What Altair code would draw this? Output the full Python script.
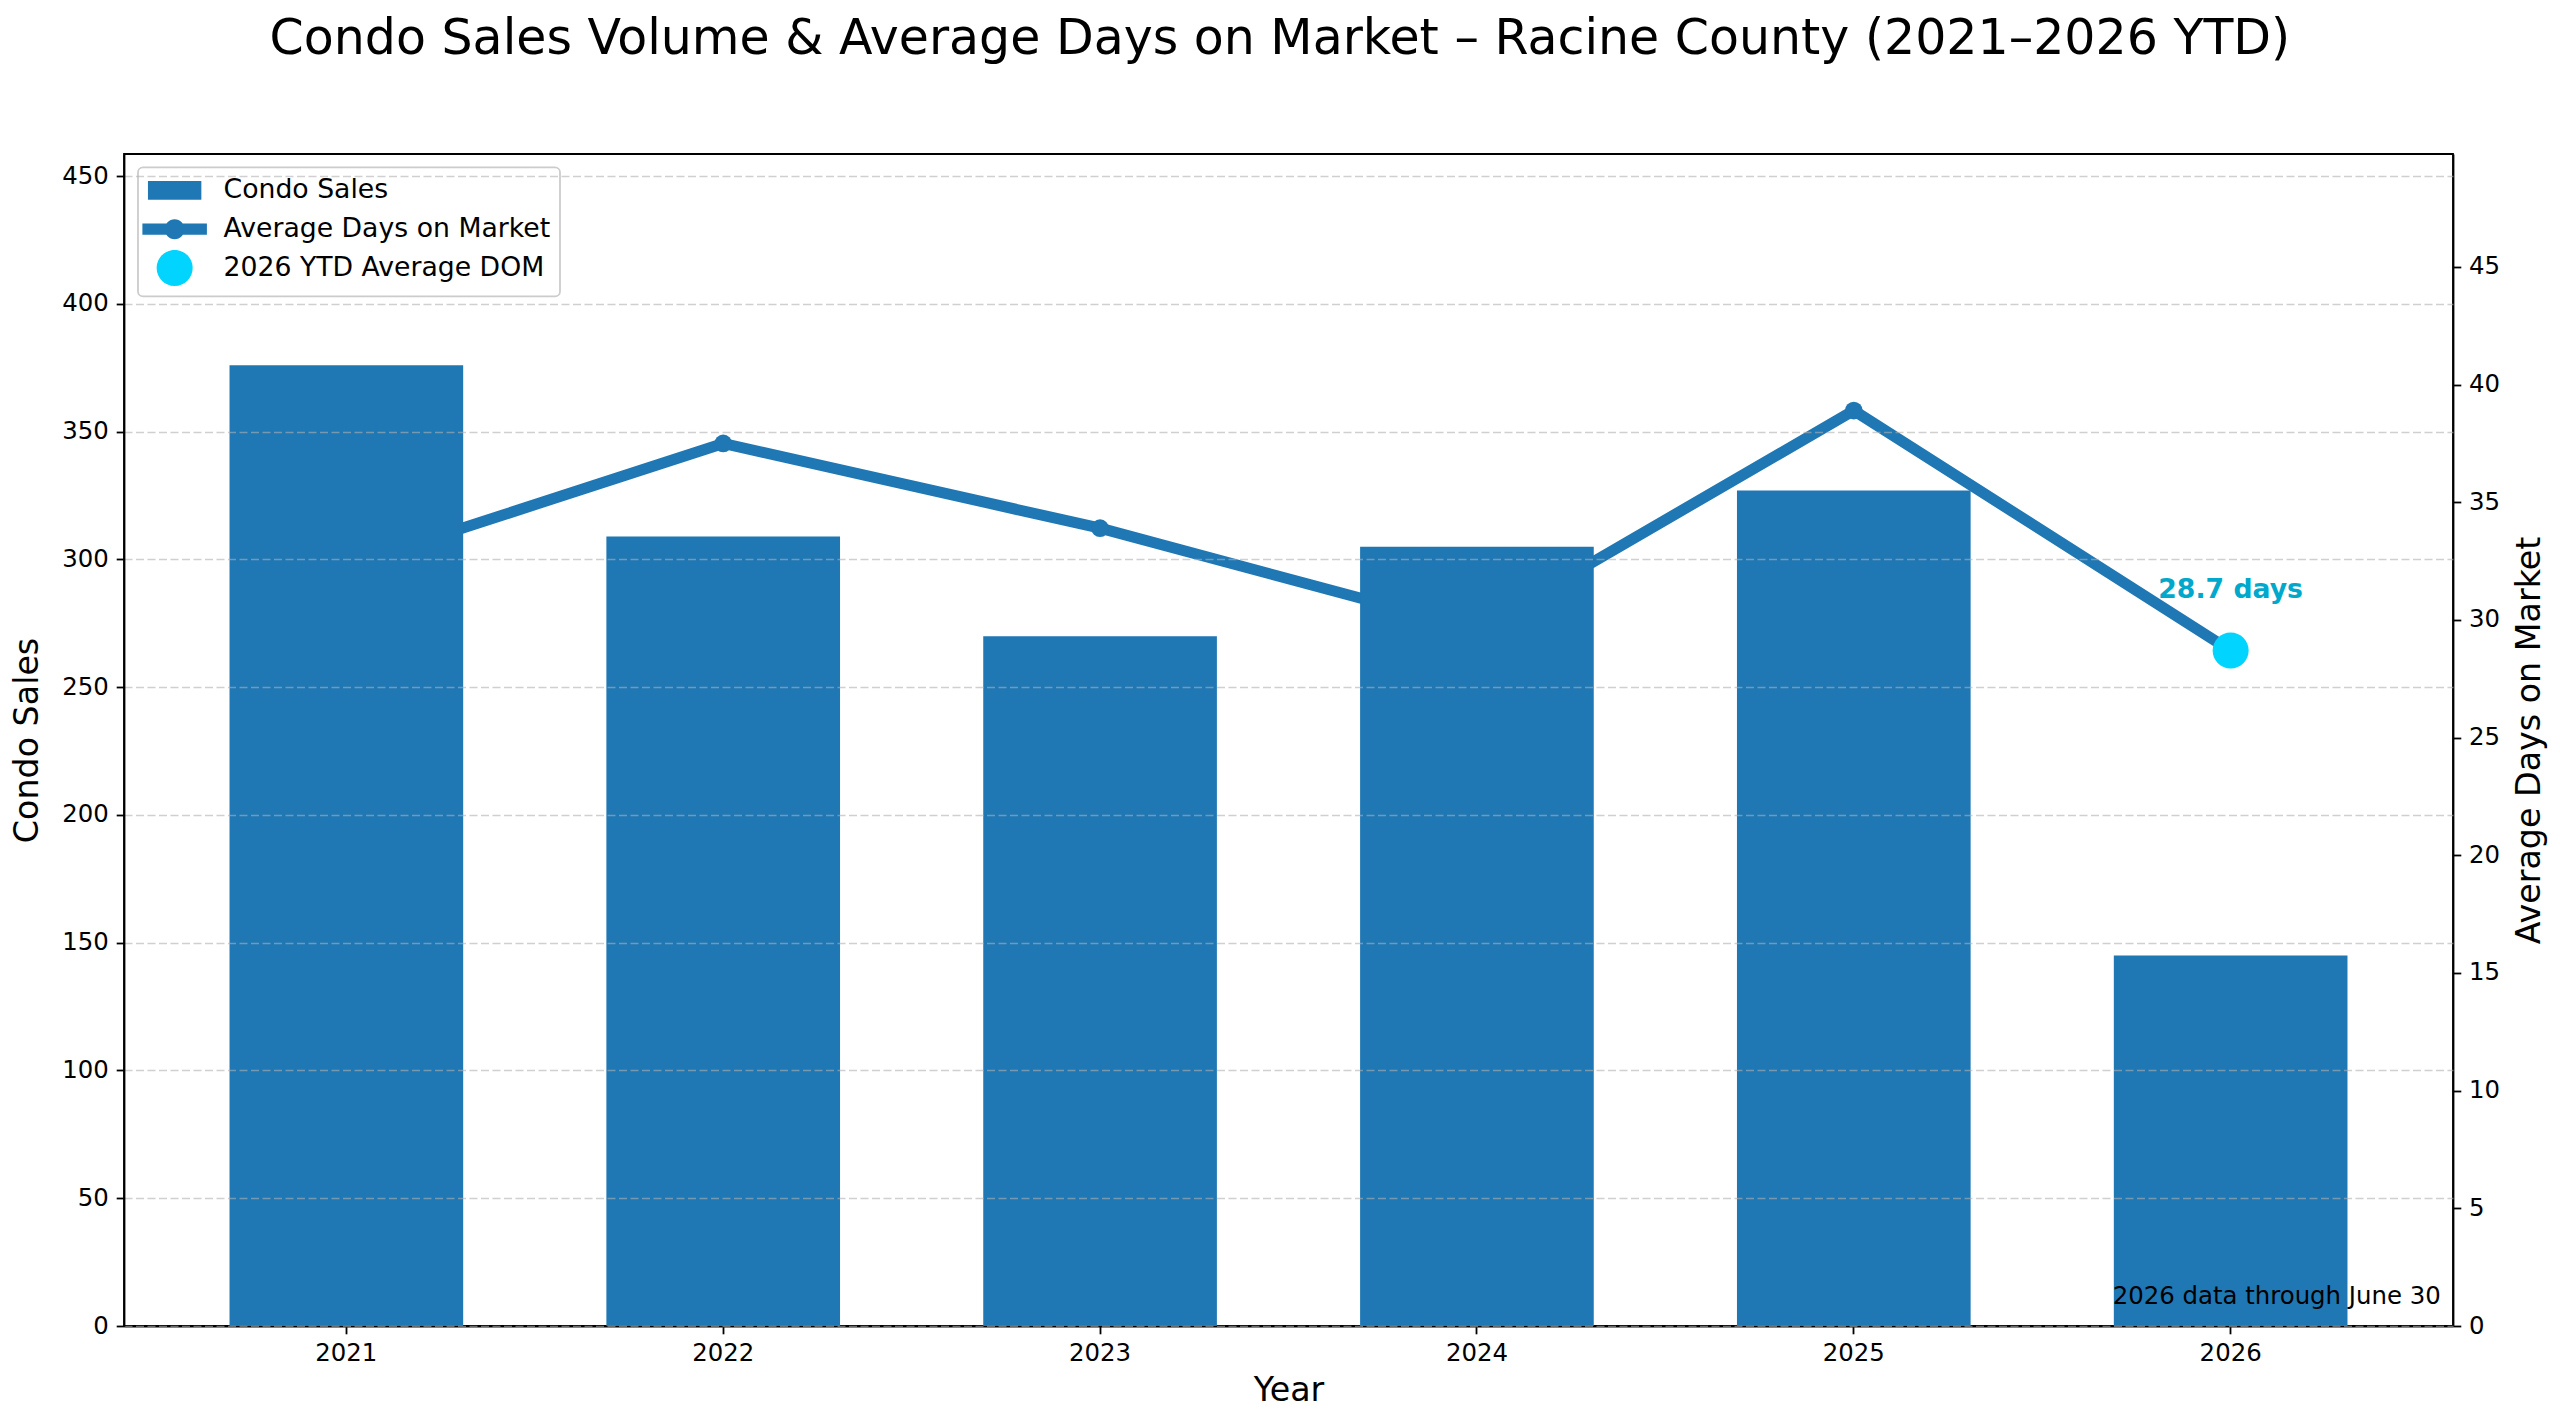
import altair as alt
import pandas as pd

# ---- data ----
years = ["2021", "2022", "2023", "2024", "2025", "2026"]
condo_sales = [376, 309, 270, 305, 327, 145]
avg_dom = [32.3, 37.5, 33.9, 29.6, 38.9, 28.7]

ytd_year = ["2026"]
ytd_dom = [28.7]
ytd_label = ["28.7 days"]
ytd_series = ["2026 YTD Average DOM"]

note_text = ["2026 data through June 30"]

sales_ticks = [0, 50, 100, 150, 200, 250, 300, 350, 400, 450]
dom_ticks = [0, 5, 10, 15, 20, 25, 30, 35, 40, 45]

series_names = ["Condo Sales", "Average Days on Market", "2026 YTD Average DOM"]
series_colors = ["#1f77b4", "#1f77b4", "#00d4ff"]
# legend / marker glyphs (unit = half of sqrt(symbol size)); leading moves even out the bounds
_bounds = "M-6.45,-3.6M6.45,3.6"
series_shapes = [
    _bounds + "M-5.34,-1.87H5.34V1.87H-5.34Z",
    _bounds + "M-6.45,-1.11H6.45V1.11H-6.45ZM-2,0A2,2 0 1,1 2,0A2,2 0 1,1 -2,0Z",
    _bounds + "M-3.6,0A3.6,3.6 0 1,1 3.6,0A3.6,3.6 0 1,1 -3.6,0Z",
]

title_text = "Condo Sales Volume & Average Days on Market \u2013 Racine County (2021\u20132026 YTD)"

# ---- tables ----
main_df = pd.DataFrame({"year": years, "sales": condo_sales, "dom": avg_dom})
ytd_df = pd.DataFrame({"year": ytd_year, "dom": ytd_dom, "label": ytd_label, "series": ytd_series})
note_df = pd.DataFrame({"note": note_text})

FONT = "DejaVu Sans"
W, H = 2329, 1172
SALES_MAX = 458.7
DOM_MAX = 49.8
BLUE = series_colors[0]
TICK_FS = 24.4
AXTITLE_FS = 33.3

x_scale = alt.Scale(type="band", domain=years, paddingInner=0.38, paddingOuter=0.28)
x_axis = alt.Axis(
    title="Year", labelAngle=0, orient="bottom", grid=False,
    labelFontSize=TICK_FS, titleFontSize=AXTITLE_FS, titlePadding=9,
)

legend = alt.Legend(
    title=None, orient="none", legendX=14, legendY=13.4,
    labelFont=FONT, labelFontSize=26.7, labelColor="black",
    labelOffset=35.5, symbolOffset=13.7, rowPadding=1.8, padding=9.6,
    fillColor="rgba(255,255,255,0.8)", strokeColor="#cccccc", cornerRadius=5,
    symbolSize=100, symbolStrokeWidth=0, symbolOpacity=1, labelLimit=600,
)

dom_scale = alt.Scale(domain=[0, DOM_MAX], nice=False, zero=True)

line = alt.Chart(main_df).mark_line(
    strokeWidth=11, color=BLUE,
    point=alt.OverlayMarkDef(size=314, filled=True, opacity=1, color=BLUE),
).encode(
    x=alt.X("year:N", scale=x_scale, axis=x_axis, sort=years),
    y=alt.Y(
        "dom:Q", scale=dom_scale,
        axis=alt.Axis(
            orient="right", title="Average Days on Market", values=dom_ticks,
            grid=False, titleAngle=270, titleBaseline="top", titlePadding=14,
            labelFontSize=TICK_FS, titleFontSize=AXTITLE_FS,
        ),
    ),
)

bars = alt.Chart(main_df).mark_bar(opacity=1, color=BLUE).encode(
    x=alt.X("year:N", scale=x_scale, axis=x_axis, sort=years),
    y=alt.Y(
        "sales:Q", scale=alt.Scale(domain=[0, SALES_MAX], nice=False),
        axis=alt.Axis(
            orient="left", title="Condo Sales", values=sales_ticks,
            grid=True, gridDash=[8, 3.5], gridColor="#b0b0b0", gridOpacity=0.6,
            gridWidth=1.6, zindex=1, titlePadding=17,
            labelFontSize=TICK_FS, titleFontSize=AXTITLE_FS,
        ),
    ),
)

ytd_point = alt.Chart(ytd_df).mark_point(filled=True, size=100, opacity=1).encode(
    x=alt.X("year:N", scale=x_scale, axis=x_axis, sort=years),
    y=alt.Y("dom:Q", scale=dom_scale, axis=None),
    color=alt.Color("series:N", scale=alt.Scale(domain=series_names, range=series_colors), legend=legend),
    shape=alt.Shape("series:N", scale=alt.Scale(domain=series_names, range=series_shapes), legend=legend),
)

ytd_text = alt.Chart(ytd_df).mark_text(
    font=FONT, fontSize=26.7, fontWeight="bold", color="#00a8cc",
    baseline="alphabetic", align="center", dy=-52.7,
).encode(
    x=alt.X("year:N", scale=x_scale, axis=x_axis, sort=years),
    y=alt.Y("dom:Q", scale=dom_scale, axis=None),
    text="label:N",
)

note = alt.Chart(note_df).mark_text(
    font=FONT, fontSize=24.4, color="black", align="right", baseline="alphabetic",
).encode(
    x=alt.value(W - 12.3),
    y=alt.value(H - 22),
    text="note:N",
)

chart = alt.layer(line, bars, ytd_point, ytd_text, note).resolve_scale(
    y="independent"
).properties(
    width=W, height=H,
    title=alt.TitleParams(
        text=title_text, font=FONT, fontSize=49, fontWeight="normal",
        color="black", anchor="middle", offset=90, dx=-8.6,
    ),
    autosize=alt.AutoSizeParams(type="none"),
    padding={"left": 116, "top": 146, "right": 99, "bottom": 91},
).configure(
    font=FONT,
).configure_axis(
    labelFont=FONT, titleFont=FONT, labelColor="black", titleColor="black",
    titleFontWeight="normal", tickColor="black", tickSize=7.8, tickWidth=1.8,
    labelPadding=7.8, domainColor="black", domainWidth=1.8,
).configure_legend(
    strokeWidth=1.8,
).configure_view(
    stroke="black", strokeWidth=1.8,
).configure_title(
    font=FONT,
)

chart.save("out.html", embed_options={"renderer": "svg", "actions": False})
